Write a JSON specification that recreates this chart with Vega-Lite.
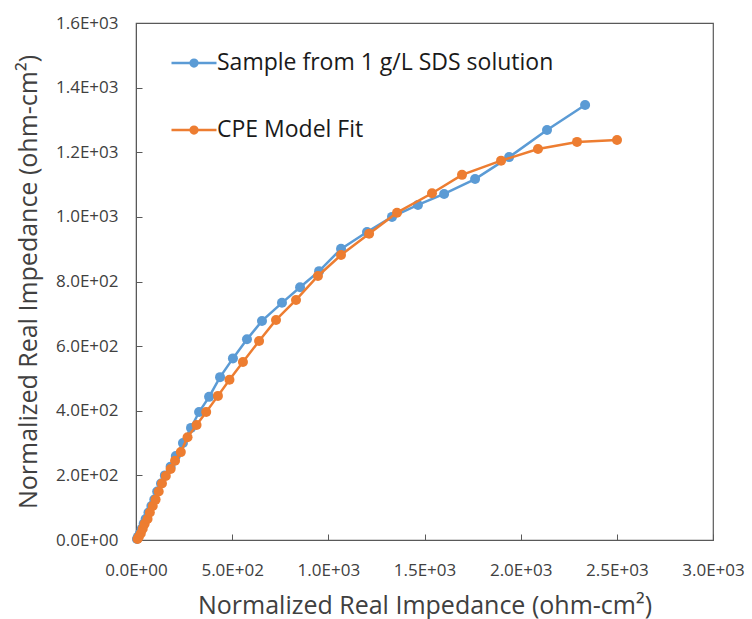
{
  "$schema": "https://vega.github.io/schema/vega-lite/v6.json",
  "autosize": "none",
  "width": 577,
  "height": 517,
  "padding": {"left": 136, "top": 23, "right": 39, "bottom": 79},
  "background": "white",
  "config": {
    "font": "Open Sans",
    "view": {"stroke": "#595959", "strokeWidth": 1.2},
    "axis": {"grid": false, "domainColor": "#595959", "tickColor": "#595959", "labelColor": "#404040", "titleColor": "#404040", "labelFont": "Open Sans", "titleFont": "Open Sans", "labelFontSize": 17, "titleFontSize": 25, "titleFontWeight": "normal", "titleLimit": 800, "labelLimit": 300}
  },
  "datasets": {
    "sample": [
      {"x": 5, "y": 3}, {"x": 10, "y": 10}, {"x": 20, "y": 20}, {"x": 30, "y": 35}, {"x": 40, "y": 50},
      {"x": 50, "y": 65}, {"x": 65, "y": 85}, {"x": 80, "y": 105}, {"x": 95, "y": 125}, {"x": 110, "y": 150},
      {"x": 130, "y": 175}, {"x": 150, "y": 200}, {"x": 180, "y": 227}, {"x": 207, "y": 260}, {"x": 244, "y": 300},
      {"x": 286, "y": 347}, {"x": 328, "y": 396}, {"x": 380, "y": 443}, {"x": 437, "y": 504}, {"x": 504, "y": 562},
      {"x": 577, "y": 621}, {"x": 655, "y": 678}, {"x": 759, "y": 734}, {"x": 853, "y": 782}, {"x": 952, "y": 832},
      {"x": 1066, "y": 901}, {"x": 1201, "y": 953}, {"x": 1331, "y": 1000}, {"x": 1466, "y": 1037}, {"x": 1602, "y": 1071},
      {"x": 1763, "y": 1117}, {"x": 1940, "y": 1185}, {"x": 2137, "y": 1269}, {"x": 2335, "y": 1346}
    ],
    "fit": [
      {"x": 8, "y": 3}, {"x": 15, "y": 10}, {"x": 25, "y": 20}, {"x": 35, "y": 35}, {"x": 45, "y": 50},
      {"x": 60, "y": 65}, {"x": 72, "y": 85}, {"x": 87, "y": 105}, {"x": 102, "y": 125}, {"x": 118, "y": 150},
      {"x": 135, "y": 175}, {"x": 155, "y": 198}, {"x": 180, "y": 220}, {"x": 203, "y": 245}, {"x": 233, "y": 272},
      {"x": 268, "y": 318}, {"x": 315, "y": 356}, {"x": 365, "y": 396}, {"x": 426, "y": 446}, {"x": 486, "y": 496},
      {"x": 556, "y": 551}, {"x": 640, "y": 616}, {"x": 728, "y": 681}, {"x": 832, "y": 743}, {"x": 946, "y": 817},
      {"x": 1066, "y": 882}, {"x": 1212, "y": 948}, {"x": 1357, "y": 1013}, {"x": 1539, "y": 1073}, {"x": 1695, "y": 1130},
      {"x": 1898, "y": 1174}, {"x": 2090, "y": 1210}, {"x": 2293, "y": 1232}, {"x": 2501, "y": 1238}
    ]
  },
  "encoding": {
    "x": {"field": "x", "type": "quantitative", "scale": {"domain": [0, 3000], "nice": false},
      "axis": {"title": "Normalized Real Impedance (ohm-cm²)", "values": [0, 500, 1000, 1500, 2000, 2500, 3000], "labelExpr": "replace(format(datum.value, '.1e'), /e([+-])(\\d)$/, 'E$10$2')", "tickSize": -6, "labelPadding": 28, "titlePadding": 15, "labelFlush": false, "labelOverlap": false}},
    "y": {"field": "y", "type": "quantitative", "scale": {"domain": [0, 1600], "nice": false},
      "axis": {"title": "Normalized Real Impedance (ohm-cm²)", "values": [0, 200, 400, 600, 800, 1000, 1200, 1400, 1600], "labelExpr": "replace(format(datum.value, '.1e'), /e([+-])(\\d)$/, 'E$10$2')", "tickSize": -6, "labelPadding": 24, "titlePadding": 14, "labelFlush": false, "labelOverlap": false}},
    "color": {"field": "s", "type": "nominal", "scale": {"domain": ["Sample from 1 g/L SDS solution", "CPE Model Fit"], "range": ["#5B9BD5", "#ED7D31"]},
      "legend": {"title": null, "orient": "none", "legendX": 34, "legendY": 16, "labelFontSize": 23, "labelFont": "Open Sans", "labelColor": "#1a1a1a", "labelLimit": 500, "rowPadding": 31, "symbolSize": 2025, "symbolStrokeWidth": 2.5, "symbolType": "M-1,0L1,0M0.15,0A0.15,0.15 0 1,1 -0.15,0A0.15,0.15 0 1,1 0.15,0Z", "labelOffset": -1,
        "encode": {"symbols": {"update": {"stroke": {"field": "value", "scale": "color"}, "fill": {"field": "value", "scale": "color"}, "strokeWidth": {"value": 2.5}}}}}}
  },
  "layer": [
    {"data": {"name": "sample"}, "transform": [{"calculate": "'Sample from 1 g/L SDS solution'", "as": "s"}],
      "mark": {"type": "line", "strokeWidth": 2.5, "point": {"size": 100, "filled": true, "opacity": 1}}},
    {"data": {"name": "fit"}, "transform": [{"calculate": "'CPE Model Fit'", "as": "s"}],
      "mark": {"type": "line", "strokeWidth": 2.5, "point": {"size": 100, "filled": true, "opacity": 1}}}
  ]
}
